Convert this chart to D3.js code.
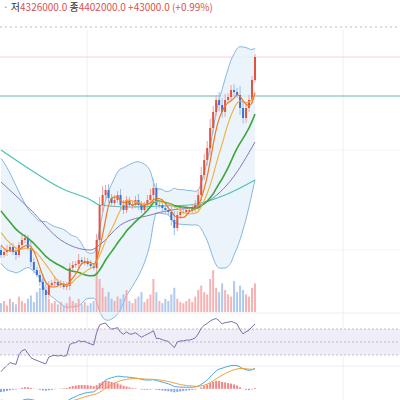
<!DOCTYPE html>
<head>
  <meta charset="utf-8">
  <script src="https://cdn.jsdelivr.net/npm/d3@7"></script>
  <style>
    body { margin: 0; background: #fff; }
    text { font-family: "Noto Sans CJK KR", "Noto Sans", sans-serif; font-size: 10px; }
  </style>
</head>
<body>
  <svg width="400" height="400"></svg>
  <script>
    // closes (thousand KRW); first 20 are history left of the view
    const history = [3272, 3252, 3222, 3172, 3192, 3122, 3072, 3022, 2972, 2922, 2872, 2822, 2852, 2772, 2722, 2672, 2622, 2572, 2522, 2472];
    const closes = [2422, 2452, 2472, 2502, 2452, 2422, 2522, 2572, 2592, 2492, 2352, 2272, 2222, 2152, 2072, 2022, 2122, 2142, 2152, 2122,
      2132, 2102, 2112, 2292, 2322, 2332, 2372, 2352, 2362, 2332, 2312, 2292, 2572, 2922, 3022, 3072, 2992, 2942, 2972, 3022,
      2922, 2872, 2972, 2922, 2922, 2972, 2922, 2872, 2922, 2972, 3022, 3092, 2922, 2922, 2892, 2872, 2852, 2772, 2692, 2822,
      2852, 2852, 2872, 2872, 2892, 2922, 3022, 3222, 3372, 3492, 3692, 3852, 3972, 3922, 3852, 3972, 4002, 4072, 4052, 4022,
      3892, 3792, 3892, 3972, 4172, 4402];
    const wicks = [40, 30, 50, 30, 40, 60, 30, 50, 40, 30, 60, 40, 30, 50, 80, 60, 40, 30, 50, 30,
      40, 30, 40, 50, 40, 30, 60, 30, 40, 30, 40, 30, 60, 80, 90, 50, 60, 40, 50, 40,
      60, 50, 40, 30, 50, 40, 60, 40, 30, 50, 60, 90, 50, 40, 60, 50, 40, 70, 90, 40,
      50, 30, 40, 30, 40, 50, 60, 80, 60, 70, 90, 60, 50, 80, 70, 60, 40, 50, 60, 40,
      90, 70, 60, 50, 40, 30];
    const volumes = [8, 10, 6, 12, 9, 7, 14, 10, 8, 12, 15, 9, 18, 22, 30, 16, 12, 8, 10, 7,
      9, 6, 8, 14, 10, 8, 12, 7, 9, 6, 8, 10, 36, 30, 22, 14, 18, 12, 10, 14,
      12, 16, 20, 10, 8, 12, 14, 18, 9, 12, 16, 30, 18, 10, 8, 12, 10, 16, 22, 12,
      9, 8, 10, 12, 9, 14, 20, 24, 18, 16, 30, 38, 22, 18, 26, 20, 16, 14, 28, 18,
      24, 20, 16, 14, 22, 26];
    const ma120Pts = [[0, 3472], [10, 3272], [20, 3092], [30, 2972], [33, 2922], [43, 2902], [53, 2912], [63, 2922], [75, 3022], [85, 3172]];
    const ma60Pts = [[0, 3152], [10, 2872], [20, 2572], [30, 2472], [33, 2522], [40, 2722], [50, 2822], [57, 2872], [63, 2892], [70, 2972], [77, 3172], [85, 3552]];
    const header = [["저", "#333"], ["4326000.0 ", "#d9534f"], ["종", "#333"], ["4402000.0 ", "#d9534f"], [" +43000.0 (+0.99%)", "#d9534f"]];

    const svg = d3.select("svg");
    const all = history.concat(closes);
    const off = history.length;
    const n = closes.length;
    const x = d3.scaleLinear().domain([0, n - 1]).range([1, 255]);
    const y = d3.scaleLinear().domain([4972, 1822]).range([0, 315]);

    // grid
    [87, 343].forEach(gx => svg.append("line").attr("x1", gx).attr("x2", gx).attr("y1", 30).attr("y2", 400).attr("stroke", "#f0f0f0"));
    [150, 250].forEach(gy => svg.append("line").attr("x1", 0).attr("x2", 400).attr("y1", gy).attr("y2", gy).attr("stroke", "#f3f3f3"));
    svg.append("line").attr("x1", 0).attr("x2", 400).attr("y1", 27).attr("y2", 27)
      .attr("stroke", "#bbb").attr("stroke-dasharray", "2,3");
    svg.append("line").attr("x1", 0).attr("x2", 400).attr("y1", y(4402)).attr("y2", y(4402)).attr("stroke", "#f6d0d0");
    svg.append("line").attr("x1", 0).attr("x2", 400).attr("y1", 96).attr("y2", 96).attr("stroke", "#5fb8a8");

    // moving averages on full series
    const sma = (k, i) => i < k - 1 ? null : d3.mean(all.slice(i - k + 1, i + 1));
    const visIdx = d3.range(n);
    const ma = k => visIdx.map(i => [i, sma(k, i + off) ?? sma(Math.min(k, i + off + 1), i + off)]);
    const bb = visIdx.map(i => {
      const s = all.slice(Math.max(0, i + off - 19), i + off + 1);
      const m = d3.mean(s), sd = d3.deviation(s) || 0;
      return [i, m + 2 * sd, m - 2 * sd];
    });

    svg.append("path").datum(bb)
      .attr("d", d3.area().x(d => x(d[0])).y0(d => y(d[2])).y1(d => y(d[1])).curve(d3.curveMonotoneX))
      .attr("fill", "#e6f1fa").attr("opacity", 0.8);
    [1, 2].forEach(k => svg.append("path").datum(bb)
      .attr("d", d3.line().x(d => x(d[0])).y(d => y(d[k])).curve(d3.curveMonotoneX))
      .attr("fill", "none").attr("stroke", "#6aa5d8").attr("stroke-width", 0.8));

    const line = d3.line().x(d => x(d[0])).y(d => y(d[1])).curve(d3.curveMonotoneX);
    svg.append("path").datum(ma120Pts).attr("d", line).attr("fill", "none").attr("stroke", "#4cc3b5").attr("stroke-width", 1.2);
    svg.append("path").datum(ma60Pts).attr("d", line).attr("fill", "none").attr("stroke", "#8478b8").attr("stroke-width", 1);

    // volume
    const vy = d3.scaleLinear().domain([0, 40]).range([312, 268]);
    svg.append("g").selectAll("rect").data(volumes).join("rect")
      .attr("x", (d, i) => x(i) - 1).attr("width", 2)
      .attr("y", d => vy(d)).attr("height", d => 312 - vy(d))
      .attr("fill", (d, i) => closes[i] >= all[i + off - 1] ? "#f2a0a0" : "#9cbcea").attr("opacity", 0.8);

    // candles
    const candles = closes.map((c, i) => {
      const o = all[i + off - 1];
      return { i, o, c, h: Math.max(o, c) + wicks[i], l: Math.min(o, c) - wicks[i] * 0.8 };
    });
    const cg = svg.append("g");
    cg.selectAll("line").data(candles).join("line")
      .attr("x1", d => x(d.i)).attr("x2", d => x(d.i)).attr("y1", d => y(d.h)).attr("y2", d => y(d.l))
      .attr("stroke", d => d.c >= d.o ? "#f0a0a0" : "#9cbcea");
    cg.selectAll("rect").data(candles).join("rect")
      .attr("x", d => x(d.i) - 1).attr("width", 2)
      .attr("y", d => y(Math.max(d.o, d.c))).attr("height", d => Math.max(1, Math.abs(y(d.o) - y(d.c))))
      .attr("fill", d => d.c >= d.o ? "#e0533f" : "#3f6fd0");

    [[20, "#3da53a", 1.6], [10, "#f0b040", 1.1], [5, "#f07a20", 1.2]].forEach(([k, col, w]) =>
      svg.append("path").datum(ma(k)).attr("d", line).attr("fill", "none").attr("stroke", col).attr("stroke-width", w));

    // RSI
    svg.append("line").attr("x1", 0).attr("x2", 400).attr("y1", 313).attr("y2", 313).attr("stroke", "#eee");
    const ry = d3.scaleLinear().domain([30, 70]).range([355, 329]);
    svg.append("rect").attr("x", 0).attr("width", 400).attr("y", ry(70)).attr("height", ry(30) - ry(70)).attr("fill", "#efedf8");
    [30, 50, 70].forEach(v => svg.append("line").attr("x1", 0).attr("x2", 400).attr("y1", ry(v)).attr("y2", ry(v))
      .attr("stroke", "#aaa").attr("stroke-dasharray", "2,2").attr("stroke-width", 0.7));
    let ag = 0, al = 0;
    const rsi = [];
    all.forEach((c, j) => {
      if (j === 0) return;
      const ch = c - all[j - 1];
      ag = (ag * 13 + Math.max(ch, 0)) / 14;
      al = (al * 13 + Math.max(-ch, 0)) / 14;
      if (j >= off) rsi.push([j - off, 100 - 100 / (1 + ag / (al || 1))]);
    });
    svg.append("path").datum(rsi).attr("d", d3.line().x(d => x(d[0])).y(d => ry(d[1])))
      .attr("fill", "none").attr("stroke", "#7a6fa8").attr("stroke-width", 1);
    svg.append("line").attr("x1", 0).attr("x2", 400).attr("y1", 366).attr("y2", 366).attr("stroke", "#eee");

    // MACD
    const ema = (arr, k) => { const a = 2 / (k + 1); let e = arr[0]; return arr.map(v => e = e + a * (v - e)); };
    const e12 = ema(all, 12), e26 = ema(all, 26);
    const macd = all.map((v, j) => e12[j] - e26[j]);
    const sig = ema(macd, 9);
    const mv = visIdx.map(i => [i, macd[i + off], sig[i + off]]);
    const my = d3.scaleLinear().domain([-150, 200]).range([400, 374]);
    svg.append("g").selectAll("rect").data(mv).join("rect")
      .attr("x", d => x(d[0]) - 1).attr("width", 2)
      .attr("y", d => Math.min(my(d[1] - d[2]), my(0))).attr("height", d => Math.abs(my(d[1] - d[2]) - my(0)))
      .attr("fill", d => d[1] >= d[2] ? "#e66" : "#6a8fe0").attr("opacity", 0.8);
    svg.append("path").datum(mv).attr("d", d3.line().x(d => x(d[0])).y(d => my(d[1])))
      .attr("fill", "none").attr("stroke", "#4aa8e0").attr("stroke-width", 1);
    svg.append("path").datum(mv).attr("d", d3.line().x(d => x(d[0])).y(d => my(d[2])))
      .attr("fill", "none").attr("stroke", "#f0a040").attr("stroke-width", 1);

    // header
    const t = svg.append("text").attr("x", 3).attr("y", 11);
    t.append("tspan").attr("fill", "#888").text("· ");
    header.forEach(([s, c]) => t.append("tspan").attr("fill", c).text(s));
  </script>
</body>
